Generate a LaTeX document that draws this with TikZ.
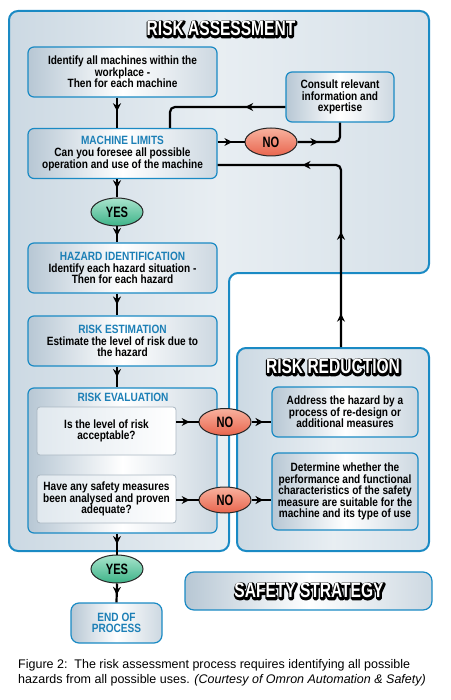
\documentclass[tikz,border=0pt]{standalone}
\usepackage{fontspec}
\setmainfont{Liberation Sans}
\newfontfamily\boxfont{Liberation Sans}[FakeStretch=0.84]
\newfontfamily\headfont{Liberation Sans}[FakeStretch=0.74]
\usetikzlibrary{arrows.meta,shapes.geometric,decorations.markings}

\definecolor{rablue}{HTML}{1A8AC4}
\definecolor{panelgrey}{HTML}{CCD9E3}
\definecolor{boxshade}{HTML}{B7C7D4}
\definecolor{headblue}{HTML}{1C7FB6}
\definecolor{nored}{HTML}{E9654E}
\definecolor{nolight}{HTML}{F8B29E}
\definecolor{yesgreen}{HTML}{3DB388}
\definecolor{yeslight}{HTML}{A9E4CD}
\definecolor{innerline}{HTML}{AAB7C2}

\newcommand\boxhead[1]{{\color{headblue}#1}}
% white letters, black rim
\newcommand\outlined[1]{\makebox[0pt][l]{\kern.6pt\raisebox{-.6pt}{\color{black}%
  \special{pdf:literal direct q 3.6 w 1 j 2 Tr}#1\special{pdf:literal direct 0 Tr Q}}}#1}

\tikzset{
  panel/.style={draw=rablue, line width=2pt, rounded corners=9pt,
    left color=panelgrey, right color=panelgrey!80!white, middle color=panelgrey!45!white},
  procbox/.style={draw=rablue, line width=1.2pt, rounded corners=6pt,
    left color=boxshade, right color=boxshade!70!white, middle color=white,
    minimum width=189pt, minimum height=50pt, inner sep=1pt, align=center,
    font=\boxfont\bfseries\fontsize{12}{11.6}\selectfont},
  askbox/.style={draw=innerline, line width=.8pt, rounded corners=3pt,
    left color=panelgrey!60!white, right color=white,
    minimum width=139pt, minimum height=48pt, inner sep=1pt, align=center,
    font=\boxfont\bfseries\fontsize{12}{11.6}\selectfont},
  noflag/.style={ellipse, draw=black!85, line width=1pt, top color=nolight, bottom color=nored,
    minimum width=52pt, minimum height=28pt, inner sep=0pt,
    font=\headfont\bfseries\fontsize{15}{15}\selectfont},
  yesflag/.style={noflag, top color=yeslight, bottom color=yesgreen},
  headtext/.style={text=white, font=\headfont\bfseries\fontsize{21}{21}\selectfont},
  flow/.style={line width=2.2pt, rounded corners=5pt},
  arrowat/.style={postaction={decorate, decoration={markings,
    mark=at position #1 with {\arrow{Stealth[length=8pt,width=8pt]}}}}}
}

\begin{document}
\begin{tikzpicture}[x=1pt,y=-1pt]
  \useasboundingbox (0,0) rectangle (450,700);
  % the two panels
  \path[panel] (9,11) -- (429,11) -- (429,273) -- (229,273) -- (229,551) -- (9,551) -- cycle;
  \node[panel, minimum width=192pt, minimum height=203pt] (redpanel) at (333,449.5) {};
  \node[headtext] (rahead) at (221,29) {\outlined{RISK ASSESSMENT}};
  \node[headtext] (rrhead) at (333,367) {\outlined{RISK REDUCTION}};

  % main column
  \node[procbox] (ident) at (122.5,72) {Identify all machines within the\\workplace -\\Then for each machine};
  \node[procbox] (limits) at (122.5,153.5) {\boxhead{MACHINE LIMITS}\\Can you foresee all possible\\operation and use of the machine};
  \node[procbox, minimum width=108pt] (consult) at (340,97) {Consult relevant\\information and\\expertise};
  \node[noflag] (no1) at (271,142) {NO};
  \node[yesflag] (yes1) at (117,212) {YES};
  \node[procbox] (hazard) at (122.5,268) {\boxhead{HAZARD IDENTIFICATION}\\Identify each hazard situation -\\Then for each hazard};
  \node[procbox] (estim) at (122.5,341) {\boxhead{RISK ESTIMATION}\\Estimate the level of risk due to\\the hazard};
  \node[procbox, minimum height=145pt] (eval) at (122.5,460.5) {};
  \node[font=\boxfont\bfseries\fontsize{12}{12}\selectfont, text=headblue] (evalhead) at (123,397) {RISK EVALUATION};
  \node[askbox] (accept) at (106.5,431) {Is the level of risk\\acceptable?};
  \node[askbox] (safe) at (106.5,499) {Have any safety measures\\been analysed and proven\\adequate?};
  \node[noflag, minimum height=27pt] (no2) at (225,422) {NO};
  \node[noflag, minimum height=26pt] (no3) at (225,500) {NO};
  \node[yesflag] (yes2) at (117,569) {YES};
  \node[procbox, minimum width=91pt, minimum height=40pt, rounded corners=8pt] (endp) at (116.5,623) {\boxhead{END OF}\\\boxhead{PROCESS}};

  % risk reduction side
  \node[procbox, minimum width=146pt] (address) at (345,412) {Address the hazard by a\\process of re-design or\\additional measures};
  \node[procbox, minimum width=146pt, minimum height=77pt] (determine) at (345,491.5) {Determine whether the\\performance and functional\\characteristics of the safety\\measure are suitable for the\\machine and its type of use};
  \node[procbox, minimum width=247pt, minimum height=38pt, rounded corners=9pt] (strategy) at (308.5,591) {};
  \node[headtext] (sshead) at (309,591) {\outlined{SAFETY STRATEGY}};

  % connectors
  \coordinate (ret) at (170,107);
  \coordinate (back) at (341,165);
  \draw[flow, arrowat=.45] (ident.south -| yes1) -- (limits.north -| yes1);
  \draw[flow, arrowat=.55] (limits.east |- no1) -- (no1.west);
  \draw[flow, arrowat=.35] (no1.east) -| (consult.south);
  \draw[flow, arrowat=.3] (consult.west |- ret) -| (limits.north -| ret);
  \draw[flow, arrowat=.11, arrowat=.38, arrowat=.72] (redpanel.north -| back) -- (back) -- (limits.east |- back);
  \draw[flow, arrowat=.5] (limits.south -| yes1) -- (yes1.north);
  \draw[flow, arrowat=.6] (yes1.south) -- (hazard.north -| yes1);
  \draw[flow, arrowat=.5] (hazard.south -| yes1) -- (estim.north -| yes1);
  \draw[flow, arrowat=.5] (estim.south -| yes1) -- (eval.north -| yes1);
  \draw[flow, arrowat=.5] (eval.south -| yes1) -- (yes2.north);
  \draw[flow, arrowat=.6] (yes2.south) -- (endp.north);
  \draw[flow, arrowat=.6] (accept.east |- no2) -- (no2.west);
  \draw[flow, arrowat=.6] (no2.east) -- (address.west |- no2);
  \draw[flow, arrowat=.6] (safe.east |- no3) -- (no3.west);
  \draw[flow, arrowat=.6] (no3.east) -- (determine.west |- no3);

  % caption
  \node[anchor=north west, align=left, inner sep=0pt, font=\fontsize{12.5}{15.5}\selectfont] (caption) at (18,659)
    {Figure 2:\ \ The risk assessment process requires identifying all possible\\
     hazards from all possible uses. \textit{(Courtesy of Omron Automation \& Safety)}};
\end{tikzpicture}
\end{document}
